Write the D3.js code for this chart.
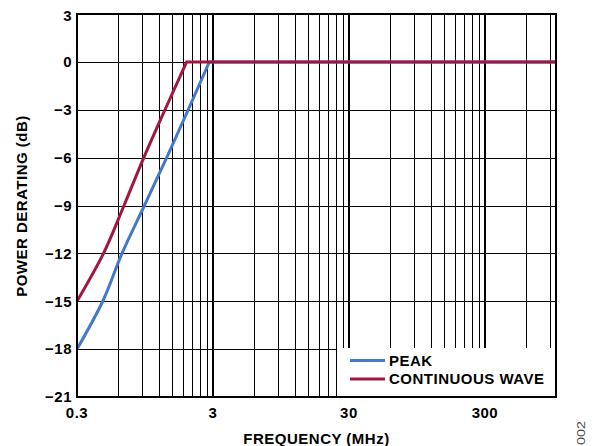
<!DOCTYPE html>
<html>
<head>
<meta charset="utf-8">
<script src="https://cdn.jsdelivr.net/npm/d3@7"></script>
<style>
  html, body { margin: 0; padding: 0; background: #fff; }
  svg { display: block; }
  text { font-family: "Liberation Sans", Arial, sans-serif; }
</style>
</head>
<body>
<svg id="chart" width="595" height="446"></svg>
<script>
// ---- Data ----
const peakFreq = [0.3, 0.464, 0.643, 0.94, 1.37, 1.974, 2.818, 1000];
const peakDb   = [-18, -15, -12, -9, -6, -3, 0, 0];
const cwFreq   = [0.3, 0.47, 0.665, 0.93, 1.331, 1.922, 1000];
const cwDb     = [-15, -12, -9, -6, -3, 0, 0];
const yTicks = [3, 0, -3, -6, -9, -12, -15, -18, -21];
const xTickValues = [0.3, 3, 30, 300];
const xTickLabels = ["0.3", "3", "30", "300"];
const seriesNames = ["PEAK", "CONTINUOUS WAVE"];
const seriesColors = ["#4479C8", "#A0173F"];

(function () {
const pL = 77, pR = 556, pT = 14, pB = 397;
const svg = d3.select("#chart");
const x = d3.scaleLog().domain([0.3, 1000]).range([pL, pR]);
const y = d3.scaleLinear().domain([-21, 3]).range([pB, pT]);
const FS = 15, LS = 0.5;

const gridF = [];
for (let n = 0; n < 4; n++) {
  for (let k = 1; k <= 9; k++) {
    const f = 0.3 * k * Math.pow(10, n);
    if (f > 0.3 * 1.0001 && f < 1000) gridF.push({f, major: k === 1});
  }
}

const g = svg.append("g");
g.selectAll("line.vg").data(gridF).join("line")
  .attr("x1", d => Math.round(x(d.f)) + (d.major ? 0 : 0.5))
  .attr("x2", d => Math.round(x(d.f)) + (d.major ? 0 : 0.5))
  .attr("y1", pT).attr("y2", pB)
  .attr("stroke", "#000")
  .attr("stroke-width", d => d.major ? 2 : 1);
g.selectAll("line.hg").data(yTicks.filter(t => t !== 3 && t !== -21)).join("line")
  .attr("x1", pL).attr("x2", pR)
  .attr("y1", d => Math.round(y(d)) + 0.5)
  .attr("y2", d => Math.round(y(d)) + 0.5)
  .attr("stroke", "#000").attr("stroke-width", 1);

// rising part smooth (monotone), flat part straight
const smooth = d3.line().x(d => x(d[0])).y(d => y(d[1])).curve(d3.curveMonotoneY);
const straight = d3.line().x(d => x(d[0])).y(d => y(d[1]));
const peak = peakFreq.map((f, i) => [f, peakDb[i]]);
const cw = cwFreq.map((f, i) => [f, cwDb[i]]);
[peak, cw].forEach((data, i) => {
  const n = data.length;
  const rise = data.slice(0, n - 1);
  const flat = data.slice(n - 2);
  const d = smooth(rise) + straight(flat).replace(/^M/, "L");
  svg.append("path")
    .attr("d", d)
    .attr("fill", "none")
    .attr("stroke", seriesColors[i])
    .attr("stroke-width", 3)
    .attr("stroke-linejoin", "miter");
});

svg.append("rect")
  .attr("x", 337).attr("y", 348)
  .attr("width", pR - 337).attr("height", pB - 348)
  .attr("fill", "#fff");
const legendY = [360.5, 379];
seriesNames.forEach((name, i) => {
  svg.append("line")
    .attr("x1", 350).attr("x2", 385)
    .attr("y1", legendY[i]).attr("y2", legendY[i])
    .attr("stroke", seriesColors[i]).attr("stroke-width", 3);
  svg.append("text")
    .attr("x", 389).attr("y", legendY[i] + 5.3)
    .attr("font-size", FS).attr("font-weight", "bold")
    .attr("letter-spacing", LS)
    .text(name);
});

svg.append("rect")
  .attr("x", pL).attr("y", pT)
  .attr("width", pR - pL).attr("height", pB - pT)
  .attr("fill", "none").attr("stroke", "#000").attr("stroke-width", 2);

svg.selectAll("text.yt").data(yTicks).join("text")
  .attr("x", 72).attr("y", d => y(d) + 5.3 + (d === 3 ? 1.5 : 0))
  .attr("text-anchor", "end")
  .attr("font-size", FS).attr("font-weight", "bold")
  .attr("letter-spacing", LS)
  .text(d => d < 0 ? "\u2212" + Math.abs(d) : String(d));

svg.selectAll("text.xt").data(xTickValues).join("text")
  .attr("x", d => x(d)).attr("y", 418)
  .attr("text-anchor", "middle")
  .attr("font-size", FS).attr("font-weight", "bold")
  .attr("letter-spacing", LS)
  .text((d, i) => xTickLabels[i]);

svg.append("text")
  .attr("x", (pL + pR) / 2).attr("y", 444)
  .attr("text-anchor", "middle")
  .attr("font-size", FS).attr("font-weight", "bold")
  .attr("letter-spacing", LS)
  .text("FREQUENCY (MHz)");
svg.append("text")
  .attr("transform", `translate(27, 206) rotate(-90)`)
  .attr("text-anchor", "middle")
  .attr("font-size", FS).attr("font-weight", "bold")
  .attr("letter-spacing", LS)
  .text("POWER DERATING (dB)");

svg.append("text")
  .attr("transform", "translate(585, 445) rotate(-90)")
  .attr("font-size", 10).attr("fill", "#444")
  .attr("textLength", 24).attr("lengthAdjust", "spacingAndGlyphs")
  .text("002");
})();
</script>
</body>
</html>
